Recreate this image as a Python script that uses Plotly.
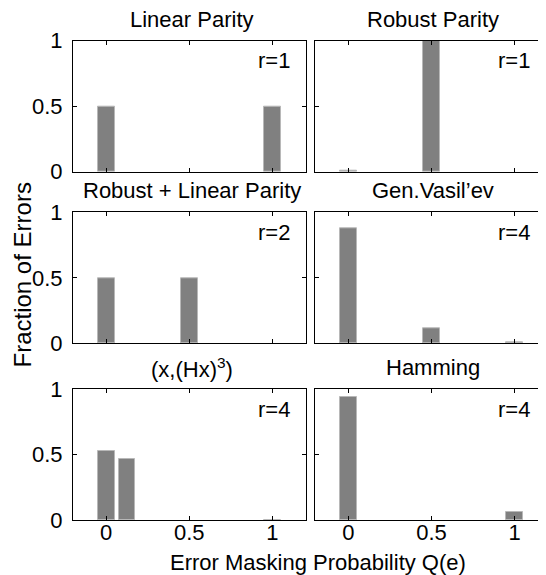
import plotly.graph_objects as go

# ---------------- data ----------------
panel_titles = ["Linear Parity", "Robust Parity", "Robust + Linear Parity",
                "Gen.Vasil\u2019ev", "(x,(Hx)<sup>3</sup>)", "Hamming"]
r_labels = ["r=1", "r=1", "r=2", "r=4", "r=4", "r=4"]

q_linear = [0, 1]
f_linear = [0.5, 0.5]

q_robust = [0, 0.5]
f_robust = [0.01, 1.0]

q_robust_linear = [0, 0.5]
f_robust_linear = [0.5, 0.5]

q_vasilev = [0, 0.5, 1]
f_vasilev = [0.88, 0.115, 0.005]

q_cube = [0, 0.125, 1]
f_cube = [0.53, 0.465, 0.006]

q_hamming = [0, 1]
f_hamming = [0.9375, 0.0625]

x_tick_vals = [0, 0.5, 1]
x_tick_text = ["0", "0.5", "1"]
y_tick_vals = [0, 0.5, 1]
y_tick_text = ["0", "0.5", "1"]

x_title = "Error Masking Probability Q(e)"
y_title = "Fraction of Errors"

qs = [q_linear, q_robust, q_robust_linear, q_vasilev, q_cube, q_hamming]
fs = [f_linear, f_robust, f_robust_linear, f_vasilev, f_cube, f_hamming]

# ---------------- style / layout ----------------
WIN_W, WIN_H = 546, 575
OFF = 8                       # page body margin of the browser
W, H = WIN_W - OFF, WIN_H - OFF
FONT = "Liberation Sans, Arial, Helvetica, sans-serif"
FS = 22
BAR_WIDTH = 0.1
# panel positions in window pixels
col_px = [(73, 305.5), (315, 545.5)]
row_px = [(40.7, 171.7), (212.3, 343.3), (389, 520.3)]
x_ranges = [[-0.2, 1.2], [-0.2, 1.185]]


def fx(px):
    return (px - OFF) / W


def fy(py):
    return 1 - (py - OFF) / H


fig = go.Figure()
layout = dict(
    width=W, height=H, autosize=False,
    margin=dict(l=0, r=0, t=0, b=0, pad=0, autoexpand=False),
    paper_bgcolor="white", plot_bgcolor="white",
    font=dict(family=FONT, size=FS, color="black"),
    showlegend=False,
    bargap=0,
)
annotations = []

for i, (q, f) in enumerate(zip(qs, fs)):
    r, c = divmod(i, 2)
    sfx = "" if i == 0 else str(i + 1)
    fig.add_trace(go.Bar(
        x=q, y=f, width=BAR_WIDTH,
        xaxis="x" + sfx, yaxis="y" + sfx,
        marker=dict(color="#808080", line=dict(color="#b8b8b8", width=1)),
        hoverinfo="x+y",
    ))
    x0, x1 = col_px[c]
    y0, y1 = row_px[r]
    common = dict(
        ticks="inside", ticklen=4, tickwidth=1, tickcolor="black",
        showline=True, linecolor="black", linewidth=1, mirror="ticks",
        showgrid=False, zeroline=False, automargin=False,
        tickfont=dict(family=FONT, size=FS, color="black"),
    )
    layout["xaxis" + sfx] = dict(
        domain=[fx(x0), min(fx(x1), 1)], range=x_ranges[c], anchor="y" + sfx,
        tickmode="array", tickvals=x_tick_vals, ticktext=x_tick_text,
        showticklabels=(r == 2), ticklabelstandoff=-8, **common)
    layout["yaxis" + sfx] = dict(
        domain=[fy(y1), fy(y0)], range=[0, 1], anchor="x" + sfx,
        tickmode="array", tickvals=y_tick_vals, ticktext=y_tick_text,
        showticklabels=(c == 0), ticklabelstandoff=5, **common)

    annotations.append(dict(
        text=panel_titles[i], xref="x%s domain" % sfx, yref="y%s domain" % sfx,
        x=0.5, y=1, xshift=3, yshift=21.5, xanchor="center", yanchor="middle",
        showarrow=False, font=dict(family=FONT, size=FS, color="black")))
    annotations.append(dict(
        text=r_labels[i], xref="x%s domain" % sfx, yref="y%s domain" % sfx,
        x=0.865, y=1, yshift=-20, xanchor="center", yanchor="middle",
        showarrow=False, font=dict(family=FONT, size=FS, color="black")))

annotations.append(dict(
    text=x_title, xref="paper", yref="paper", x=fx(318), y=fy(562.7),
    xanchor="center", yanchor="middle", showarrow=False,
    font=dict(family=FONT, size=FS, color="black")))
annotations.append(dict(
    text=y_title, xref="paper", yref="paper", x=fx(21.5), y=fy(275),
    xanchor="center", yanchor="middle", textangle=-90, showarrow=False,
    font=dict(family=FONT, size=24, color="black")))

layout["annotations"] = annotations
fig.update_layout(**layout)
fig.write_html("out.html")
